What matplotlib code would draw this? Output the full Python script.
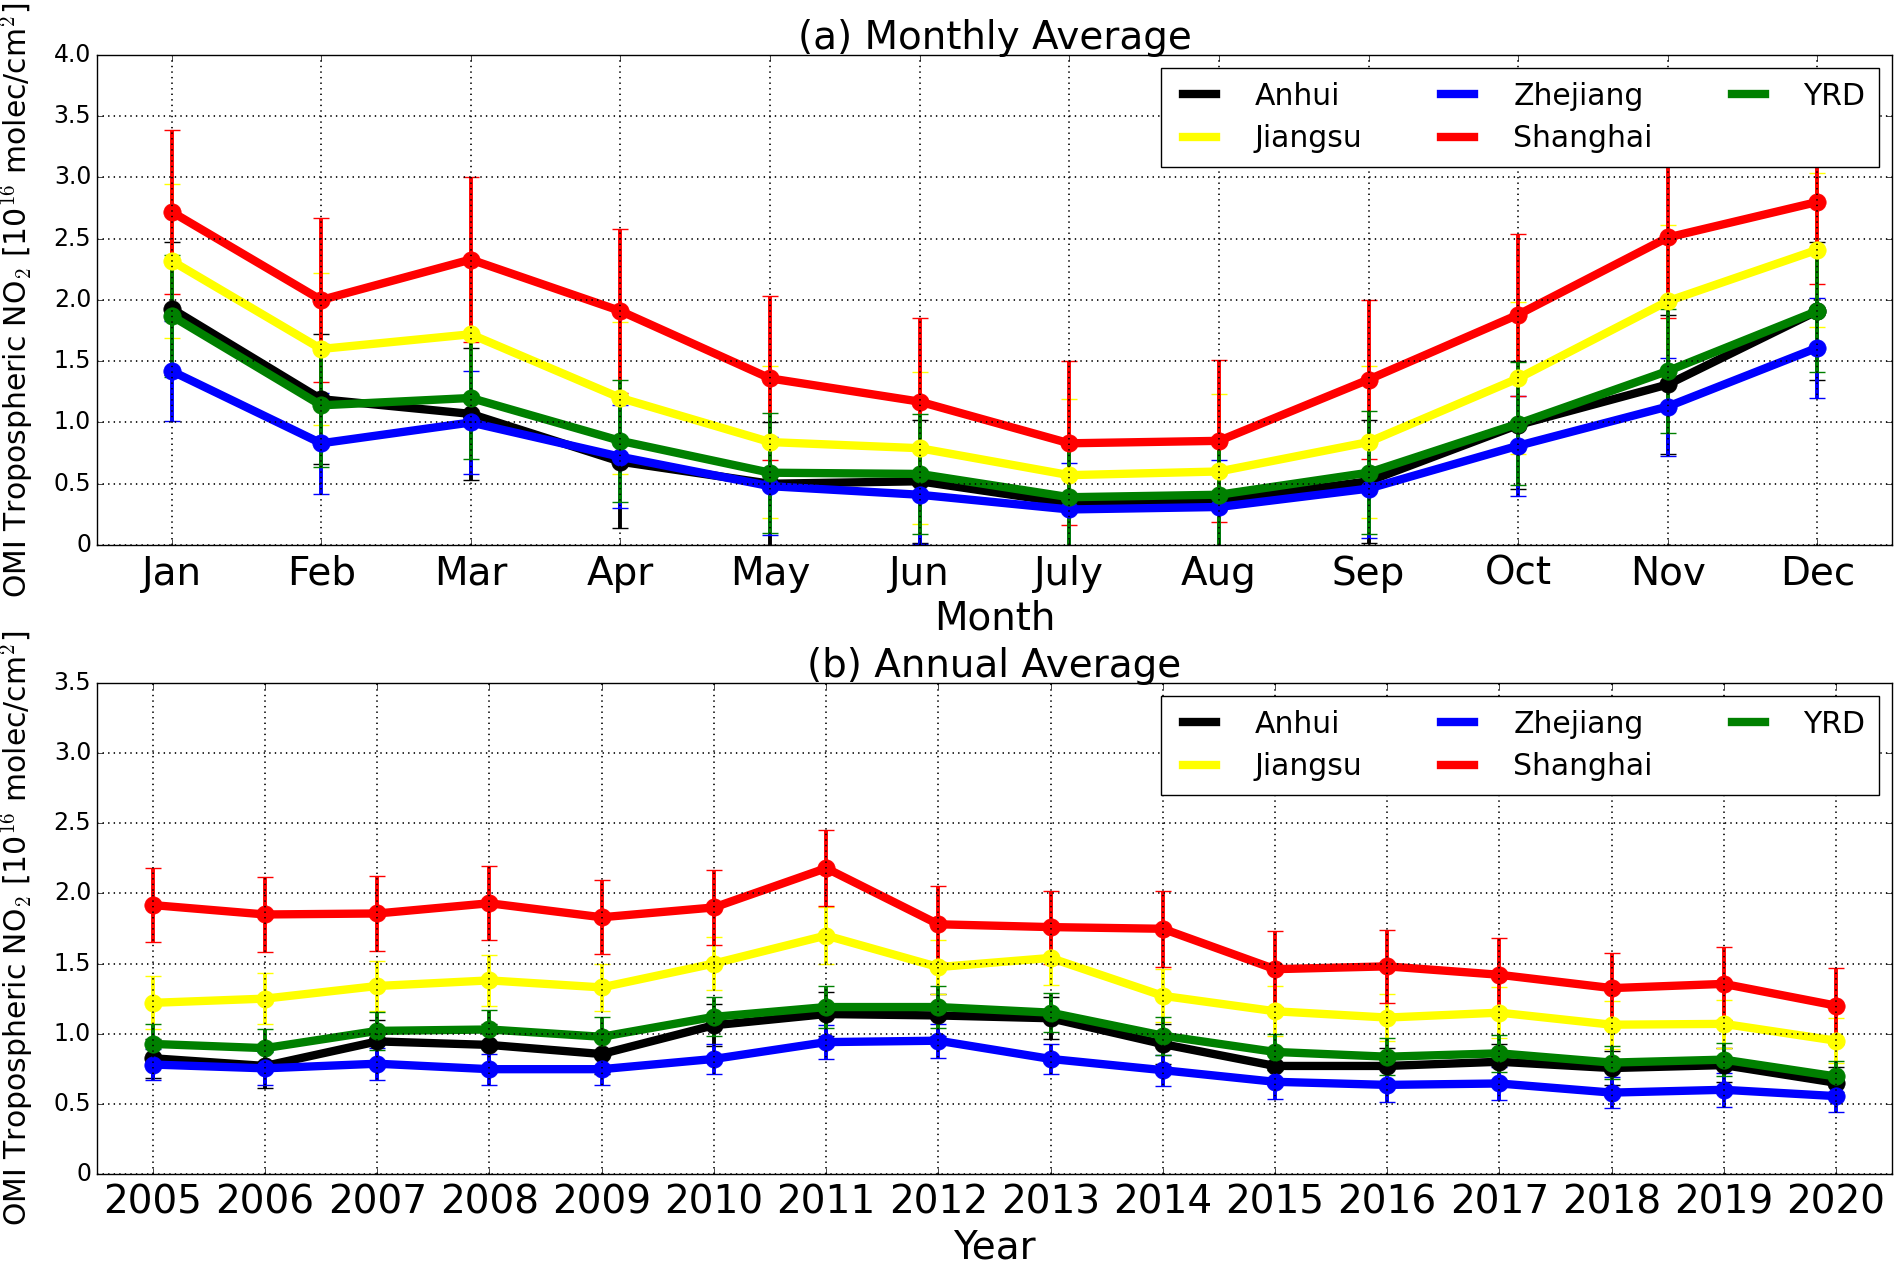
import matplotlib
matplotlib.use("Agg")
import matplotlib.pyplot as plt
from matplotlib.lines import Line2D

plt.style.use("classic")

months = ["Jan", "Feb", "Mar", "Apr", "May", "Jun", "July", "Aug", "Sep", "Oct", "Nov", "Dec"]
years = list(range(2005, 2021))
regions = ["Anhui", "Jiangsu", "Zhejiang", "Shanghai", "YRD"]
colors = ["black", "yellow", "blue", "red", "green"]

# monthly means / std [1e16 molec/cm2]
anhui_mon = [1.93, 1.19, 1.07, 0.68, 0.50, 0.52, 0.34, 0.36, 0.52, 0.98, 1.31, 1.91]
jiangsu_mon = [2.32, 1.60, 1.72, 1.20, 0.84, 0.79, 0.57, 0.60, 0.84, 1.36, 1.99, 2.41]
zhejiang_mon = [1.42, 0.83, 1.00, 0.72, 0.48, 0.41, 0.29, 0.31, 0.46, 0.81, 1.13, 1.61]
shanghai_mon = [2.72, 2.00, 2.33, 1.91, 1.36, 1.17, 0.83, 0.85, 1.35, 1.88, 2.51, 2.80]
yrd_mon = [1.87, 1.14, 1.20, 0.85, 0.59, 0.58, 0.39, 0.41, 0.59, 0.99, 1.42, 1.91]

anhui_mon_sd = [0.54, 0.53, 0.54, 0.54, 0.50, 0.50, 0.48, 0.48, 0.50, 0.52, 0.57, 0.56]
jiangsu_mon_sd = [0.63, 0.62, 0.62, 0.62, 0.62, 0.62, 0.62, 0.63, 0.62, 0.62, 0.62, 0.63]
zhejiang_mon_sd = [0.41, 0.41, 0.42, 0.42, 0.40, 0.40, 0.38, 0.38, 0.40, 0.41, 0.40, 0.41]
shanghai_mon_sd = [0.67, 0.67, 0.67, 0.67, 0.67, 0.68, 0.67, 0.66, 0.65, 0.66, 0.66, 0.67]
yrd_mon_sd = [0.50, 0.50, 0.50, 0.50, 0.49, 0.49, 0.47, 0.47, 0.50, 0.50, 0.51, 0.50]

# annual means / std
anhui_yr = [0.825, 0.77, 0.945, 0.92, 0.855, 1.06, 1.14, 1.13, 1.11, 0.926, 0.77, 0.77, 0.80, 0.755, 0.776, 0.65]
jiangsu_yr = [1.22, 1.25, 1.34, 1.38, 1.33, 1.50, 1.70, 1.475, 1.54, 1.27, 1.16, 1.115, 1.15, 1.064, 1.07, 0.95]
zhejiang_yr = [0.78, 0.753, 0.786, 0.747, 0.747, 0.82, 0.94, 0.95, 0.82, 0.74, 0.657, 0.635, 0.645, 0.58, 0.60, 0.555]
shanghai_yr = [1.917, 1.85, 1.857, 1.93, 1.83, 1.90, 2.18, 1.78, 1.76, 1.748, 1.46, 1.48, 1.42, 1.325, 1.355, 1.20]
yrd_yr = [0.927, 0.897, 1.02, 1.03, 0.978, 1.12, 1.19, 1.19, 1.15, 0.986, 0.87, 0.836, 0.86, 0.794, 0.815, 0.695]

anhui_yr_sd = [0.14, 0.155, 0.15, 0.15, 0.14, 0.15, 0.16, 0.15, 0.15, 0.14, 0.13, 0.13, 0.13, 0.12, 0.12, 0.11]
jiangsu_yr_sd = [0.19, 0.18, 0.18, 0.18, 0.17, 0.19, 0.20, 0.19, 0.19, 0.19, 0.18, 0.17, 0.18, 0.17, 0.17, 0.16]
zhejiang_yr_sd = [0.11, 0.12, 0.115, 0.11, 0.11, 0.11, 0.12, 0.12, 0.11, 0.11, 0.12, 0.12, 0.115, 0.11, 0.12, 0.115]
shanghai_yr_sd = [0.265, 0.27, 0.265, 0.265, 0.265, 0.27, 0.27, 0.27, 0.26, 0.27, 0.27, 0.26, 0.26, 0.25, 0.26, 0.27]
yrd_yr_sd = [0.14, 0.14, 0.135, 0.14, 0.14, 0.14, 0.15, 0.15, 0.14, 0.135, 0.13, 0.13, 0.13, 0.12, 0.12, 0.11]

mon_means = [anhui_mon, jiangsu_mon, zhejiang_mon, shanghai_mon, yrd_mon]
mon_sds = [anhui_mon_sd, jiangsu_mon_sd, zhejiang_mon_sd, shanghai_mon_sd, yrd_mon_sd]
yr_means = [anhui_yr, jiangsu_yr, zhejiang_yr, shanghai_yr, yrd_yr]
yr_sds = [anhui_yr_sd, jiangsu_yr_sd, zhejiang_yr_sd, shanghai_yr_sd, yrd_yr_sd]

ylab = r"OMI Tropospheric NO$_2$ [10$^{16}$ molec/cm$^2$]"

fig = plt.figure(figsize=(18.96, 12.63), dpi=100, facecolor="white")
ax1 = fig.add_axes([0.051, 0.5685, 0.947, 0.388])
ax2 = fig.add_axes([0.051, 0.0705, 0.947, 0.3887])


def draw(ax, x, means, sds):
    for m, s, c in zip(means, sds, colors):
        ax.errorbar(x, m, yerr=s, color=c, lw=6.0, marker="o", ms=12.5, mec=c, mfc=c,
                    elinewidth=2.8, capsize=6, capthick=1.0, ecolor=c)
    handles = [Line2D([], [], color=c, lw=6.0) for c in colors]
    ax.legend(handles, regions, loc="upper right", ncol=3, fontsize=21.5,
              handlelength=1.7, handletextpad=1.0, columnspacing=2.35,
              borderaxespad=0.45, borderpad=0.45, labelspacing=0.45, frameon=True)
    ax.grid(True, color="k", linestyle=":", linewidth=1.2)
    ax.tick_params(axis="y", labelsize=17)
    ax.tick_params(axis="x", labelsize=28, pad=7)
    ax.set_ylabel(ylab, fontsize=21.5)
    ax.yaxis.set_label_coords(-0.0345, 0.5)


x_mon = list(range(len(months)))
draw(ax1, x_mon, mon_means, mon_sds)
ax1.set_xlim(-0.5, 11.5)
ax1.set_ylim(0, 4.0)
ax1.set_xticks(x_mon)
ax1.set_xticklabels(months)
ax1.set_yticks([0, 0.5, 1.0, 1.5, 2.0, 2.5, 3.0, 3.5, 4.0])
ax1.set_yticklabels(["0", "0.5", "1.0", "1.5", "2.0", "2.5", "3.0", "3.5", "4.0"])
ax1.set_xlabel("Month", fontsize=28, labelpad=5)
ax1.set_title("(a) Monthly Average", fontsize=28, pad=4)

draw(ax2, years, yr_means, yr_sds)
ax2.set_xlim(2004.5, 2020.5)
ax2.set_ylim(0, 3.5)
ax2.set_xticks(years)
ax2.set_xticklabels([str(y) for y in years])
ax2.set_yticks([0, 0.5, 1.0, 1.5, 2.0, 2.5, 3.0, 3.5])
ax2.set_yticklabels(["0", "0.5", "1.0", "1.5", "2.0", "2.5", "3.0", "3.5"])
ax2.set_xlabel("Year", fontsize=28, labelpad=5)
ax2.set_title("(b) Annual Average", fontsize=28, pad=4)

fig.savefig("out.png", dpi=100, facecolor="white")
